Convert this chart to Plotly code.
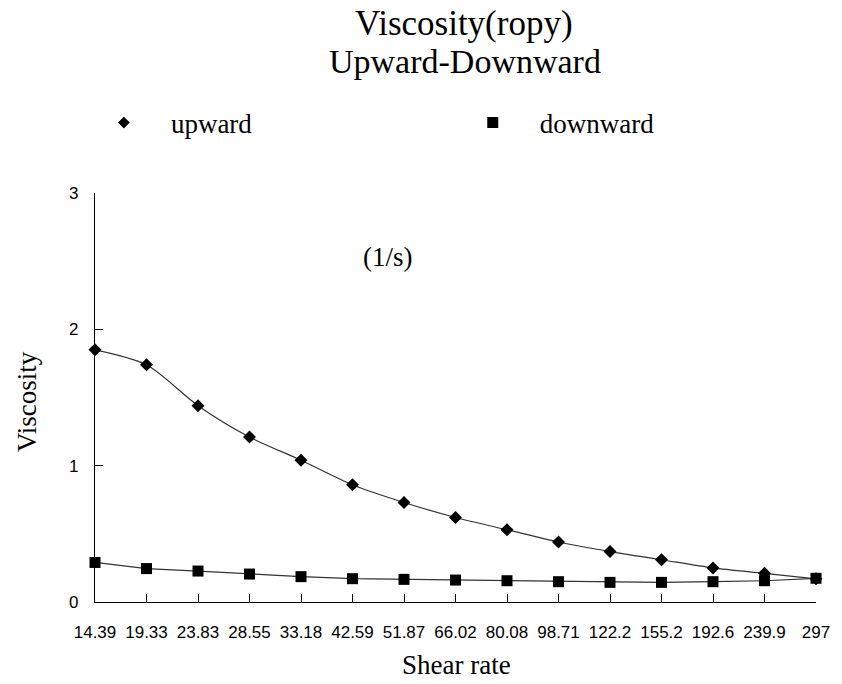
import plotly.graph_objects as go

shear_rate = ["14.39", "19.33", "23.83", "28.55", "33.18", "42.59", "51.87", "66.02",
              "80.08", "98.71", "122.2", "155.2", "192.6", "239.9", "297"]
upward = [1.85, 1.74, 1.44, 1.21, 1.04, 0.86, 0.73, 0.62, 0.53, 0.44, 0.37, 0.31, 0.25, 0.21, 0.17]
downward = [0.29, 0.245, 0.227, 0.205, 0.186, 0.171, 0.166, 0.161, 0.156, 0.149, 0.144, 0.144, 0.149, 0.156, 0.174]

SERIF = "Liberation Serif, Times New Roman, serif"
SANS = "Liberation Sans, Arial, sans-serif"
GAP = "\u00a0" * 4

fig = go.Figure()
fig.add_trace(go.Scatter(
    x=shear_rate, y=upward, mode="lines+markers", name="upward",
    line=dict(color="#333333", width=1.2, shape="spline", smoothing=0.8),
    marker=dict(symbol="diamond", size=10, color="black"),
    showlegend=False, cliponaxis=False))
fig.add_trace(go.Scatter(
    x=shear_rate, y=downward, mode="lines+markers", name="downward",
    line=dict(color="#333333", width=1.2),
    marker=dict(symbol="square", size=11, color="black"),
    showlegend=False, cliponaxis=False))
# legend entries (markers only)
fig.add_trace(go.Scatter(x=[None], y=[None], mode="markers", name=GAP + "upward", legend="legend",
                         marker=dict(symbol="diamond", size=9, color="black")))
fig.add_trace(go.Scatter(x=[None], y=[None], mode="markers", name=GAP + "downward", legend="legend2",
                         marker=dict(symbol="square", size=11, color="black")))

leg_common = dict(orientation="h", xanchor="left", yanchor="middle", y=1.171,
                  font=dict(family=SERIF, size=27), bgcolor="rgba(0,0,0,0)")

fig.update_layout(
    width=842, height=684,
    margin=dict(l=95, r=16, t=193, b=82),
    paper_bgcolor="white", plot_bgcolor="white",
    font=dict(family=SERIF, color="black"),
    legend=dict(x=(104 - 95) / 731, **leg_common),
    legend2=dict(x=(478 - 95) / 731, **leg_common),
    annotations=[
        dict(text="Viscosity(ropy)", x=0.512, y=1.414, xref="paper", yref="paper",
             showarrow=False, font=dict(family=SERIF, size=35), xanchor="center", yanchor="middle"),
        dict(text="Upward-Downward", x=0.5125, y=1.321, xref="paper", yref="paper",
             showarrow=False, font=dict(family=SERIF, size=34), xanchor="center", yanchor="middle"),
        dict(text="(1/s)", x=0.406, y=0.8435, xref="paper", yref="paper",
             showarrow=False, font=dict(family=SERIF, size=27), xanchor="center", yanchor="middle"),
        dict(text="Viscosity", x=-0.095, y=0.49, xref="paper", yref="paper", textangle=-90,
             showarrow=False, font=dict(family=SERIF, size=27), xanchor="center", yanchor="middle"),
        dict(text="Shear rate", x=0.502, y=-0.154, xref="paper", yref="paper",
             showarrow=False, font=dict(family=SERIF, size=27), xanchor="center", yanchor="middle"),
    ],
)
fig.update_xaxes(type="category", range=[0, 14], showgrid=False, zeroline=False,
                 showline=True, linecolor="black", linewidth=1.2,
                 ticks="inside", ticklen=8, tickcolor="black", tickwidth=1,
                 tickfont=dict(family=SANS, size=17, color="black"), ticklabelstandoff=14)
fig.update_yaxes(range=[0, 3], tickvals=[0, 1, 2, 3], showgrid=False, zeroline=False,
                 showline=True, linecolor="black", linewidth=1.2,
                 ticks="inside", ticklen=8, tickcolor="black", tickwidth=1,
                 tickfont=dict(family=SANS, size=17, color="black"), ticklabelstandoff=12)

fig.write_html("out.html")
